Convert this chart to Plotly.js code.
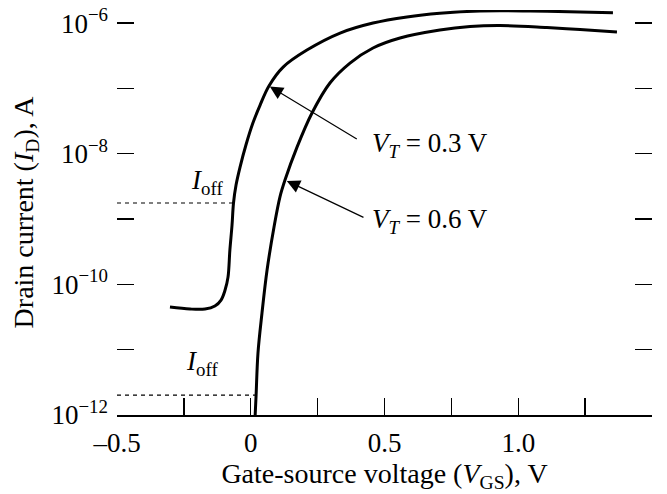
<!DOCTYPE html>
<html>
<head>
<meta charset="utf-8">
<script src="https://cdn.plot.ly/plotly-3.0.1.min.js"></script>
<style>html,body{margin:0;padding:0;background:#fff;}#chart{width:667px;height:494px;}</style>
</head>
<body>
<div id="chart"></div>
<script>
// ---- data ----
const upperX = [-0.302,-0.227,-0.171,-0.134,-0.111,-0.096,-0.085,-0.078,-0.070,-0.0645,-0.055,-0.040,-0.018,0.008,0.035,0.068,0.121,0.210,0.334,0.457,0.584,0.707,0.857,1.044,1.231,1.354];
const upperI = [4.50e-11,4.19e-11,4.19e-11,4.66e-11,5.75e-11,8.18e-11,1.29e-10,3.36e-10,8.10e-10,1.76e-9,3.32e-9,6.25e-9,1.36e-8,2.95e-8,5.56e-8,1.09e-7,2.12e-7,3.86e-7,7.03e-7,1.00e-6,1.24e-6,1.41e-6,1.53e-6,1.53e-6,1.48e-6,1.44e-6];
const lowerX = [0.016,0.020,0.027,0.042,0.061,0.087,0.109,0.128,0.173,0.229,0.296,0.371,0.457,0.558,0.707,0.820,0.932,1.107,1.231,1.369];
const lowerI = [9.0e-13,2.02e-12,8.89e-12,3.64e-11,1.66e-10,7.55e-10,2.17e-9,3.95e-9,1.26e-8,4.20e-8,1.21e-7,2.44e-7,4.15e-7,5.90e-7,7.82e-7,8.85e-7,9.16e-7,8.53e-7,7.96e-7,7.29e-7];
const upperLabel = '<i>V</i><sub><i>T</i></sub> = 0.3 V';
const lowerLabel = '<i>V</i><sub><i>T</i></sub> = 0.6 V';
const ioffLabel = '<i>I</i><sub>off</sub>';
const xTicks = [-0.5,-0.25,0,0.25,0.5,0.75,1,1.25,1.5];
const xTickText = ['\u20130.5','','0','','0.5','','1.0','','1.5'];
const yTicks = [1e-12,1e-11,1e-10,1e-9,1e-8,1e-7,1e-6];
const yTickText = ['10<sup>\u221212</sup>','','10<sup>\u221210</sup>','','10<sup>\u22128</sup>','','10<sup>\u22126</sup>'];
const xTitle = 'Gate-source voltage (<i>V</i><sub>GS</sub>), V';
const yTitle = 'Drain current (<i>I</i><sub>D</sub>), A';

// indices of reference points on the curves
const upIoffIdx = 9;   // where upper I_off dashed line meets the curve
const lowIoffIdx = 1;  // where lower I_off dashed line meets the curve
const upArrowIdx = 15;
const lowArrowIdx = 7;

const xRange = [-0.5, 1.5];
const yRange = [-12, -5.80];
const axisTop = -5.878;
const FONT = 'Liberation Serif, Times New Roman, serif';
const lg = v => Math.log10(v);

const curveLine = {color:'#000', width:3, shape:'spline', smoothing:1};
const traces = [
  {x:upperX, y:upperI, mode:'lines', line:curveLine, hoverinfo:'skip', showlegend:false},
  {x:lowerX, y:lowerI, mode:'lines', line:curveLine, hoverinfo:'skip', showlegend:false},
  {x:[xRange[0], upperX[upIoffIdx]], y:[upperI[upIoffIdx], upperI[upIoffIdx]], mode:'lines',
   line:{color:'#000', width:1.2, dash:'4px,4px'}, hoverinfo:'skip', showlegend:false},
  {x:[xRange[0], lowerX[lowIoffIdx]], y:[lowerI[lowIoffIdx], lowerI[lowIoffIdx]], mode:'lines',
   line:{color:'#000', width:1.2, dash:'4px,4px'}, hoverinfo:'skip', showlegend:false},
  {x:[], y:[], yaxis:'y2', mode:'lines', hoverinfo:'skip', showlegend:false}
];

const tickCommon = {ticks:'inside', ticklen:17, tickwidth:1.3, tickcolor:'#000', showgrid:false, zeroline:false};

const layout = {
  width:667, height:494,
  margin:{l:117, r:15, t:10, b:79, pad:0},
  paper_bgcolor:'#fff', plot_bgcolor:'#fff',
  font:{family:FONT, size:27, color:'#000'},
  showlegend:false,
  xaxis:Object.assign({}, tickCommon, {
    range:xRange, tickmode:'array', tickvals:xTicks, ticktext:xTickText,
    showline:true, linecolor:'#000', linewidth:1.5,
    tickfont:{family:FONT, size:27}, ticklabelstandoff:3,
    title:{text:xTitle, font:{family:FONT, size:28}, standoff:6}
  }),
  yaxis:Object.assign({}, tickCommon, {
    type:'log', range:yRange, tickmode:'array', tickvals:yTicks, ticktext:yTickText,
    showline:false, tickfont:{family:FONT, size:27}, ticklabelstandoff:8,
    title:{text:yTitle, font:{family:FONT, size:28}, standoff:9}
  }),
  yaxis2:Object.assign({}, tickCommon, {
    type:'log', range:yRange, overlaying:'y', side:'right', tickmode:'array', tickvals:yTicks,
    showticklabels:false, showline:false
  }),
  shapes:[
    {type:'line', xref:'paper', yref:'y', x0:0, x1:0, y0:yRange[0], y1:axisTop, line:{color:'#000', width:1.5}},
    {type:'line', xref:'paper', yref:'y', x0:1, x1:1, y0:yRange[0], y1:axisTop, line:{color:'#000', width:1.5}}
  ],
  annotations:[
    {x:upperX[upArrowIdx], y:lg(upperI[upArrowIdx]), ax:0.402, ay:-7.79, axref:'x', ayref:'y', xref:'x', yref:'y',
     text:'', showarrow:true, arrowhead:2, arrowsize:2.2, arrowwidth:1.2, arrowcolor:'#000', standoff:1},
    {x:lowerX[lowArrowIdx], y:lg(lowerI[lowArrowIdx]), ax:0.427, ay:-8.985, axref:'x', ayref:'y', xref:'x', yref:'y',
     text:'', showarrow:true, arrowhead:2, arrowsize:2.2, arrowwidth:1.2, arrowcolor:'#000', standoff:2},
    {x:0.444, y:-7.86, xref:'x', yref:'y', text:upperLabel, showarrow:false, xanchor:'left', yanchor:'middle', font:{family:FONT, size:27}},
    {x:0.444, y:-9.03, xref:'x', yref:'y', text:lowerLabel, showarrow:false, xanchor:'left', yanchor:'middle', font:{family:FONT, size:27}},
    {x:-0.231, y:-8.44, xref:'x', yref:'y', text:ioffLabel, showarrow:false, xanchor:'left', yanchor:'middle', font:{family:FONT, size:27}},
    {x:-0.250, y:-11.2, xref:'x', yref:'y', text:ioffLabel, showarrow:false, xanchor:'left', yanchor:'middle', font:{family:FONT, size:27}}
  ]
};

Plotly.newPlot('chart', traces, layout, {staticPlot:true, displayModeBar:false});
</script>
</body>
</html>
